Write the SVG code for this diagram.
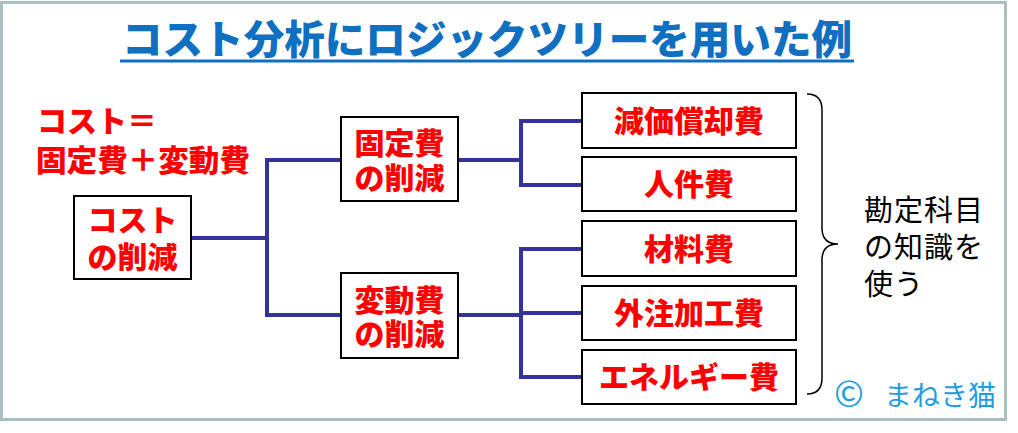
<svg xmlns="http://www.w3.org/2000/svg" width="1018" height="433" viewBox="0 0 1018 433">
<style>
.jp{font-family:"Noto Sans CJK JP","Noto Sans CJK SC",sans-serif}
.red{fill:#ff0000;font-weight:900;font-size:30px;text-anchor:middle}
.box{fill:#ffffff;stroke:#000000;stroke-width:2}
.conn{fill:none;stroke:#333399;stroke-width:4;stroke-linejoin:miter}
</style>
<rect x="0" y="0" width="1018" height="433" fill="#ffffff"/>
<rect x="1.5" y="2.5" width="1004" height="417" fill="#ffffff" stroke="#a9bfc0" stroke-width="3"/>
<g id="title">
<text class="jp" x="487" y="54" font-size="40" font-weight="900" fill="#0f6fc0" text-anchor="middle" textLength="730" lengthAdjust="spacingAndGlyphs">コスト分析にロジックツリーを用いた例</text>
<line x1="120" y1="61" x2="854" y2="61" stroke="#0f6fc0" stroke-width="3"/>
</g>
<g id="formula">
<text class="jp" x="37" y="132" font-size="30" font-weight="900" fill="#ff0000">コスト＝</text>
<text class="jp" x="36" y="171" font-size="30" font-weight="900" fill="#ff0000" textLength="214" lengthAdjust="spacingAndGlyphs">固定費＋変動費</text>
</g>
<g id="connectors">
<polyline class="conn" points="191,238 267,238"/>
<polyline class="conn" points="341,160 267,160 267,315 341,315"/>
<polyline class="conn" points="458,160 521,160"/>
<polyline class="conn" points="582,121 521,121 521,185 582,185"/>
<polyline class="conn" points="458,315 521,315"/>
<polyline class="conn" points="582,249 521,249 521,377 582,377"/>
<polyline class="conn" points="521,313 582,313"/>
</g>
<g id="node-cost">
<rect class="box" x="74" y="196" width="117" height="83"/>
<text class="jp red" x="132.5" y="231">コスト</text>
<text class="jp red" x="132.5" y="268">の削減</text>
</g>
<g id="node-fixed">
<rect class="box" x="341" y="117" width="117" height="84"/>
<text class="jp red" x="399.5" y="154">固定費</text>
<text class="jp red" x="399.5" y="189">の削減</text>
</g>
<g id="node-variable">
<rect class="box" x="341" y="273" width="117" height="85"/>
<text class="jp red" x="399.5" y="311">変動費</text>
<text class="jp red" x="399.5" y="345">の削減</text>
</g>
<g id="node-depreciation">
<rect class="box" x="582" y="93" width="214" height="55"/>
<text class="jp red" x="689" y="132">減価償却費</text>
</g>
<g id="node-personnel">
<rect class="box" x="582" y="157" width="214" height="54"/>
<text class="jp red" x="689" y="195">人件費</text>
</g>
<g id="node-material">
<rect class="box" x="582" y="221" width="214" height="55"/>
<text class="jp red" x="689" y="260">材料費</text>
</g>
<g id="node-outsourcing">
<rect class="box" x="582" y="286" width="214" height="54"/>
<text class="jp red" x="689" y="324">外注加工費</text>
</g>
<g id="node-energy">
<rect class="box" x="582" y="350" width="214" height="54"/>
<text class="jp red" x="689" y="388">エネルギー費</text>
</g>
<g id="brace">
<path d="M807,94 Q822,94 822,110 L822,228 Q822,244 838,244 Q822,244 822,260 L822,378 Q822,394 807,394" fill="none" stroke="#000000" stroke-width="1.5"/>
</g>
<g id="note">
<text class="jp" x="864" y="221" font-size="29" fill="#000000" letter-spacing="1">勘定科目</text>
<text class="jp" x="864" y="258" font-size="29" fill="#000000" letter-spacing="1">の知識を</text>
<text class="jp" x="864" y="295" font-size="29" fill="#000000" letter-spacing="1">使う</text>
</g>
<g id="copyright">
<text class="jp" x="834" y="407" font-size="36" fill="#1e9ee0">©<tspan x="884" font-size="28" y="406">まねき猫</tspan></text>
</g>
</svg>
